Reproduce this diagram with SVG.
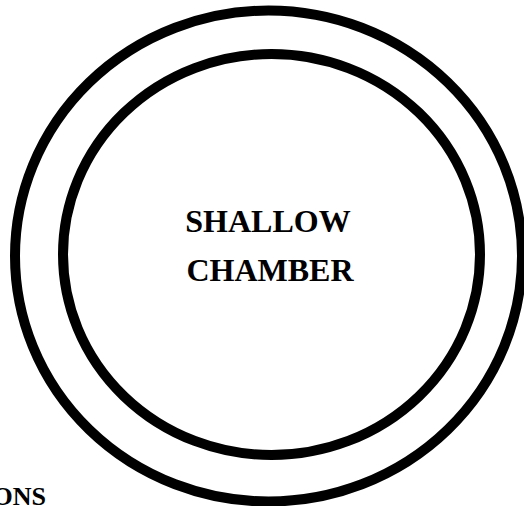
<svg xmlns="http://www.w3.org/2000/svg" width="524" height="506" viewBox="0 0 524 506">
<style>
.ring{fill:none;stroke:#000;stroke-width:10}
.lbl{font-family:"Liberation Serif","Times New Roman",serif;font-weight:bold;fill:#000}
</style>
<rect width="524" height="506" fill="#fff"/>
<g id="outer-ring"><ellipse class="ring" cx="268.5" cy="256" rx="253.5" ry="245.5"/></g>
<g id="shallow-chamber">
<ellipse class="ring" cx="271.5" cy="254.5" rx="208.5" ry="200.5"/>
<text class="lbl" font-size="32" x="268" y="232" text-anchor="middle">SHALLOW</text>
<text class="lbl" font-size="32" x="270" y="281" text-anchor="middle">CHAMBER</text>
</g>
<g id="connectors"/>
<text class="lbl" font-size="26" x="46" y="505" text-anchor="end">ONS</text>
</svg>
